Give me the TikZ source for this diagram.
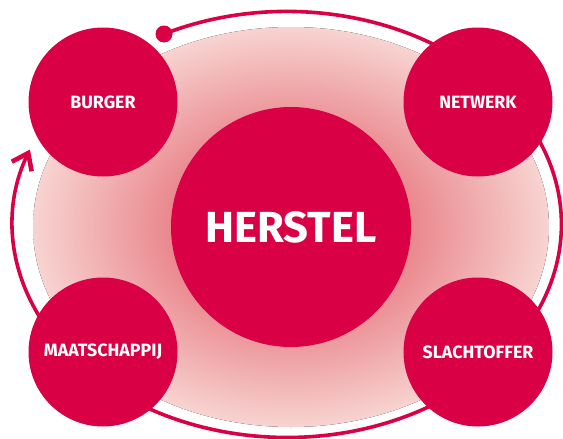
\documentclass[tikz,border=0pt]{standalone}
\usepackage{fontspec}
\setmainfont{Fira Sans}
\usepackage{tikz}
\usetikzlibrary{arrows.meta,shapes}
\definecolor[named]{Crimson}{rgb}{.85,0,.27}
\definecolor[named]{Rose}{rgb}{.87,.27,.32}
\definecolor[named]{Blush}{rgb}{.97,.83,.82}
\tikzset{halo/.style ={
        inner color=Rose,
        outer color=Blush,
    },
    core/.style ={
        circle,
        fill=Crimson,
        minimum size=240pt,
        inner sep=0pt,
        text=white,
        font=\bfseries\fontsize{43.5}{43.5}\selectfont,
    },
    actor/.style ={
        circle,
        fill=Crimson,
        minimum size=149pt,
        inner sep=0pt,
        text=white,
        font=\bfseries\fontsize{17.8}{17.8}\selectfont,
    },
    ring/.style ={
        draw=Crimson,
        line width=3.6pt,
        -{Straight Barb[length=15pt,width=22pt,line width=4.6pt]},
    },
    knob/.style ={
        circle,
        fill=Crimson,
        minimum size=17pt,
        inner sep=0pt,
    }}

\begin{document}
\begin{tikzpicture}[x=1pt,y=-1pt]
	\useasboundingbox (0,0) rectangle (563,439);
	% blush behind the circles
	\fill[halo] (291,227) ellipse [x radius=258, y radius=200];
	% the loop round it all
	\node[knob] (start) at (164,34) {};
	\draw[ring] (start.center) arc [start angle=-116.6, end angle=200.6, x radius=274.5, y radius=213];
	\node[core] (herstel) at (291,227) {HERSTEL};
	\node[actor] (burger) at (103,102) {BURGER};
	\node[actor] (netwerk) at (478,102) {NETWERK};
	\node[actor] (maatschappij) at (103,352) {MAATSCHAPPIJ};
	\node[actor] (slachtoffer) at (478,352) {SLACHTOFFER};
\end{tikzpicture}
\end{document}
